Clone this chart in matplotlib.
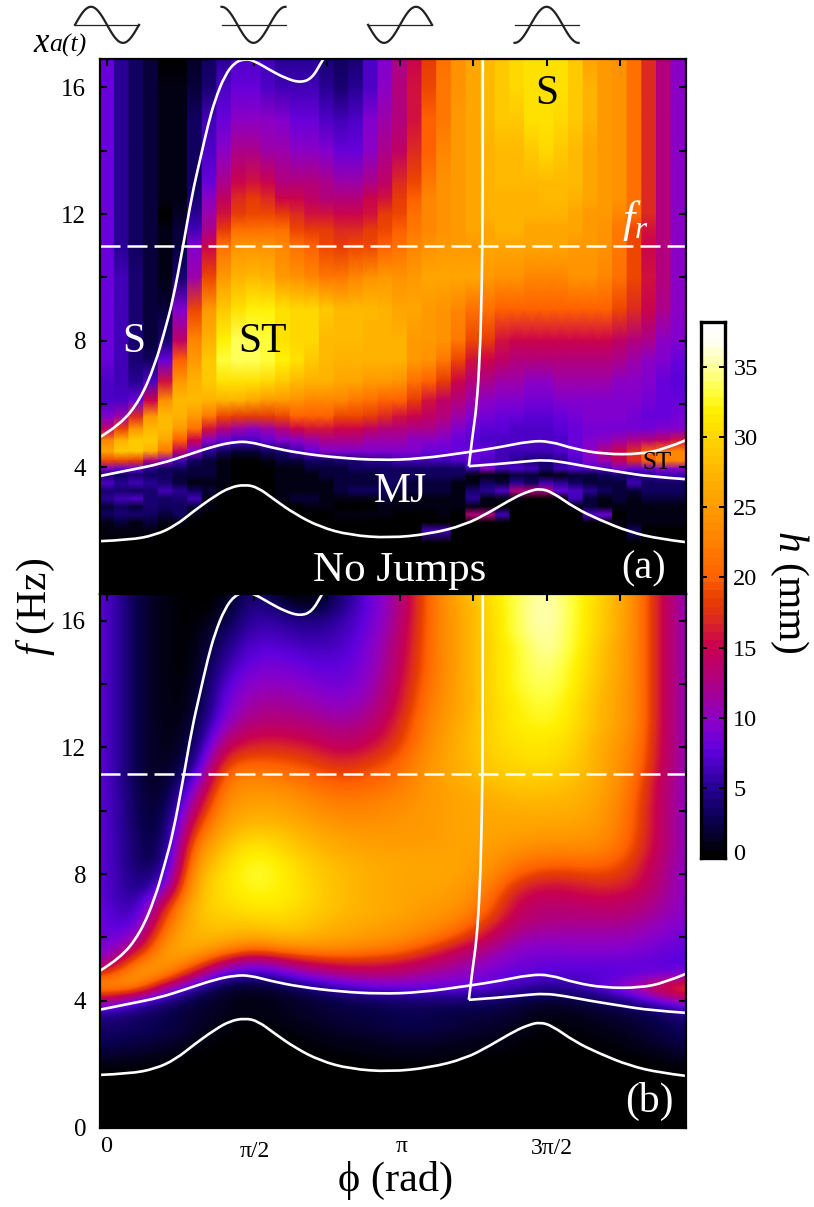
import numpy as np
import matplotlib
matplotlib.use("Agg")
import matplotlib.pyplot as plt
from matplotlib.colors import LinearSegmentedColormap
from matplotlib.path import Path
from matplotlib.patches import PathPatch

plt.rcParams['font.family'] = ['Liberation Serif', 'DejaVu Serif']
plt.rcParams['mathtext.fontset'] = 'custom'
plt.rcParams['mathtext.rm'] = 'Liberation Serif'
plt.rcParams['mathtext.it'] = 'Liberation Serif:italic'
plt.rcParams['mathtext.bf'] = 'Liberation Serif:bold'

# colour scale (value in mm, colour)
cbar_values = [0, 2.5, 5, 7.5, 9, 10, 12.5, 15, 17, 18.5, 20, 22.5, 25, 27.5, 30, 32, 33.5, 35, 37, 38.2]
cbar_colors = ['#000000', '#0a0050', '#2a0098', '#5f00dd', '#8000d0', '#9000c0', '#b00080', '#c80050',
               '#dc2a20', '#e84000', '#ff6000', '#ff8000', '#ff9a00', '#ffb400', '#ffd400', '#fff000',
               '#ffff40', '#ffff90', '#fffff0', '#ffffff']

# panel (a): 40 phase columns, rows at these frequencies
f_a = [16.9, 16, 15, 14, 13, 12.5, 12, 11.5, 11, 10, 8.98, 8, 7.38, 6.7, 6.1, 5.6, 5.2, 4.85, 4.5, 4.2,
       3.95, 3.75, 3.5, 3.25, 3.0, 2.75, 2.5, 2.25, 2.0, 1.6, 0]
h_a = [
    [8, 5, 3, 2, 0, 0, 1.5, 3, 5, 7, 7, 6, 5, 5, 5, 4, 3.5, 4, 7, 9, 12, 15, 18, 21, 24, 26, 28, 29, 30, 31, 31, 31, 29, 26, 25, 24, 21, 17, 13, 10],
    [8, 5, 3, 2, 1, 1, 2, 4, 7, 8, 8, 7, 6.5, 6, 6, 5, 4, 5, 7, 10, 13, 16, 19, 22, 24, 26, 28, 29, 30, 31, 31, 31, 29, 27, 25, 24, 21, 17, 13, 10],
    [8, 5, 3, 2, 1, 1, 3, 6, 8, 10, 10, 10, 9, 8, 8, 7, 6, 7, 9, 11, 13, 16, 20, 22, 25, 26, 28, 29, 29, 31, 31, 30, 29, 27, 25, 24, 21, 17, 13, 10],
    [8, 5, 3, 2, 1, 1, 3, 7, 10, 12, 12, 11, 11, 10, 10, 9, 8, 8, 10, 12, 14, 17, 20, 23, 25, 26, 27, 28, 28, 29, 30, 29, 28, 26, 25, 24, 21, 17, 13, 10],
    [8, 5, 3, 2, 1, 1, 3, 8, 12, 15, 16, 15, 13, 13, 13, 12, 11, 11, 12, 14, 17, 19, 22, 24, 25, 26, 27, 28, 28, 28, 28, 28, 28, 26, 25, 24, 21, 17, 13, 10],
    [8, 5, 3, 2, 1, 1, 4, 10, 14, 17, 18, 17, 15, 15, 14, 13, 13, 13, 15, 16, 18, 20, 23, 24, 25, 26, 27, 27, 27, 27, 28, 28, 27, 26, 25, 24, 21, 17, 13, 10],
    [8, 5, 3, 2, 0.5, 1.5, 5, 11, 16, 18, 19, 19, 18, 17, 16, 16, 15, 15, 16, 18, 19, 21, 23, 24, 25, 26, 27, 27, 27, 27, 27, 27, 26, 25, 25, 23, 21, 17, 13, 10],
    [8, 5, 3, 2, 1, 2, 6, 12, 18, 21, 21, 21, 21, 19, 18, 18, 17, 17, 18, 19, 20, 22, 23, 24, 25, 26, 26, 27, 27, 26, 26, 26, 26, 25, 24, 22, 19, 16, 13, 10],
    [8, 5, 3, 2, 1, 2, 9, 15, 21, 24, 24, 24, 23, 21, 20, 19, 18, 19, 19, 20, 21, 23, 24, 25, 25, 25, 26, 26, 26, 26, 26, 26, 25, 25, 24, 22, 19, 15, 13, 10],
    [8, 6, 4, 2, 1, 4, 11, 19, 25, 27, 28, 27, 25, 24, 23, 22, 22, 23, 24, 25, 24, 25, 26, 26, 26, 26, 25, 24, 24, 23, 23, 23, 24, 24, 23, 21, 19, 16, 13, 10],
    [8, 6, 4, 2, 2, 9, 19, 25, 29, 31, 32, 32, 31, 30, 30, 29, 28, 28, 28, 27, 26, 26, 25, 24, 23, 21, 21, 20, 20, 20, 20, 20, 20, 20, 20, 19, 17, 15, 12, 10],
    [8, 6, 4, 2, 4, 14, 23, 27, 32, 34, 34, 33, 31, 30, 30, 28, 28, 28, 27, 27, 27, 25, 25, 24, 22, 19, 18, 16, 15, 15, 15, 15, 15, 15, 15, 14, 13, 12, 10, 9],
    [8, 6, 4, 3, 8, 20, 25, 29, 33, 34, 34, 33, 32, 31, 29, 28, 27, 27, 27, 27, 27, 25, 24, 22, 19, 16, 15, 14, 13, 13, 13, 13, 13, 13, 13, 12, 11, 10, 9, 8],
    [7, 6, 5, 7, 16, 25, 27, 29, 31, 31, 31, 30, 29, 28, 27, 27, 26, 26, 25, 25, 24, 21, 20, 18, 15, 13, 12, 11, 11, 10, 10, 11, 11, 11, 11, 10, 10, 9, 8, 7.5],
    [7, 7, 8, 15, 24, 28, 28, 27, 27, 27, 26, 25, 25, 24, 23, 23, 23, 22, 21, 20, 20, 18, 16, 14, 13, 11, 10, 9, 9, 8.5, 8.5, 9, 9, 9.5, 9.5, 9, 9, 8.5, 8, 8],
    [9, 11, 17, 25, 28, 27, 25, 22, 19, 18, 18, 18, 19, 20, 20, 20, 19, 19, 18, 17, 16, 15, 14, 13, 11, 9.5, 8.5, 8, 8, 7.5, 7.5, 8, 8.5, 9, 9, 9, 8.5, 8, 8, 8.5],
    [14, 19, 25, 28, 28, 25, 21, 16, 13, 11, 10, 11, 13, 15, 16, 16, 15, 15, 14, 13, 13, 12, 12, 11, 9.5, 8, 7.5, 7.5, 7, 7, 7, 7.5, 8, 8.5, 8.5, 8.5, 8.5, 8.5, 9, 9],
    [23, 27, 29, 29, 26, 20, 15, 10, 8, 7, 7, 8, 9, 10, 11, 12, 12, 12, 11, 11, 11, 10, 10, 9, 8, 7.5, 7, 7, 7, 7, 7, 7, 8, 9, 10, 11, 12, 13, 14, 16],
    [26, 29, 29, 27, 22, 14, 9, 5, 3, 2, 2, 3, 4, 6, 8, 9, 9, 9, 9, 9, 9, 9, 8, 8, 8, 8, 8, 6, 6, 6, 6, 7, 8, 10, 13, 15, 17, 20, 22, 23],
    [19, 19, 18, 13, 9, 6, 3, 2, 1, 0.5, 0.5, 1, 2, 2, 3, 3, 4, 4, 5, 5, 6, 6, 6, 6, 7, 8, 7, 6, 5, 4, 4, 5, 7, 9, 11, 14, 17, 20, 23, 23],
    [9, 8, 8, 5, 3, 3, 2, 2, 1, 0.5, 0.5, 0.5, 1, 1, 2, 2, 2, 3, 3, 3, 3, 3, 3, 3, 3, 6, 10, 6, 7, 6, 4, 6, 7, 7, 7, 9, 8, 8, 10, 10],
    [4, 3, 4, 3, 3, 2, 2, 2, 1, 0.5, 0.5, 0.5, 1, 1, 1, 2, 2, 2, 2, 3, 3, 3, 3, 3, 3, 1, 1, 1, 2, 2, 1, 1, 2, 2, 3, 4, 4, 5, 6, 6],
    [7, 5, 6, 5, 4, 2, 1, 1, 1, 0.5, 0, 0.5, 1, 1, 1, 1, 2, 2, 2, 3, 3, 2, 2, 2, 1, 1, 3, 2, 5, 3, 6, 5, 3, 2, 2, 2, 6, 3, 3, 3],
    [4, 4, 3, 4, 6, 5, 3, 2, 1, 0, 0, 0.5, 1, 1, 1, 1, 2, 3, 3, 3, 2, 2, 2, 2, 1, 4, 5, 7, 13, 13, 13, 8, 7, 5, 3, 2, 2, 3, 3, 3],
    [5, 6, 7, 4, 3, 4, 6, 1, 0, 0, 0, 0, 1, 2, 2, 1, 1, 1, 1, 2, 1, 1, 1, 1, 1, 5, 1, 1, 1, 0, 0, 0, 6, 2, 1, 2, 1, 2, 2, 2],
    [2, 3, 2, 4, 3, 3, 2, 1, 0, 0, 0, 0, 0, 0, 1, 1, 0.5, 0.5, 0.5, 1, 1, 1, 1, 1, 1, 1, 1, 0, 0, 0, 0, 0, 1, 2, 1, 1, 1, 1, 1, 1],
    [3, 4, 4, 3, 2, 3, 1, 0, 0, 0, 0, 0, 0, 0, 0, 0, 1, 1, 1, 1, 0.5, 0.5, 0.5, 1, 0, 13, 13, 6, 0, 0, 0, 0, 0, 7, 8, 0.5, 1, 1, 1, 1],
    [1, 2, 1, 2, 1, 1, 0.5, 0, 0, 0, 0, 0, 0, 0, 0, 0, 0, 0, 0, 0.5, 0.5, 0.5, 0.5, 0.5, 0, 0.5, 0, 0, 0, 0, 0, 0, 0, 0, 0, 1, 1, 1, 1, 1],
    [1, 1, 1, 1, 0, 0, 0, 0, 0, 0, 0, 0, 0, 0, 0, 0, 0, 0, 0, 0, 0, 0, 6, 6, 0, 0, 0, 0, 0, 0, 0, 0, 0, 0, 0, 0, 3, 0.5, 0.5, 0.5],
    [0] * 40,
    [0] * 40,
]

# panel (b): smooth map, 21 columns every pi/10, rows every 0.4 Hz from 16.8 down to 0
h_b = [
    [7.5, 2, 0.5, 0, 0, 5, 0, 0, 4, 8, 12, 21, 27, 31, 34, 36, 33, 30, 24, 14, 9],
    [7.5, 2, 0.5, 0, 0.5, 5.5, 3, 0.5, 4.5, 8, 12, 21, 26, 30, 34, 36.5, 33, 29, 24, 14, 9],
    [7.5, 2, 0.5, 0, 1.5, 6, 5, 4, 5.5, 8, 12.5, 21, 26, 30, 34, 36.5, 33, 29, 24, 14, 9],
    [7.5, 2, 0.5, 0, 3, 6.5, 6, 5, 6, 8.5, 13, 21, 26, 30, 34, 36, 33, 29, 24, 14, 9],
    [7.5, 2, 0.5, 0, 4, 7.5, 7, 6, 6.5, 9, 13.5, 21, 26, 30, 33, 36, 33, 28, 24, 14, 9],
    [7.5, 2, 0.5, 0, 5, 8, 8, 7, 7, 9, 14, 21, 26, 30, 33, 35.5, 32.5, 28, 24, 14, 9],
    [7.5, 2, 0.5, 0, 6, 9, 9, 8, 7.5, 9.5, 14.5, 21, 26, 30, 33, 35, 32, 28, 24, 14, 9],
    [7.5, 2, 0.5, 0.2, 7, 10, 10, 9, 8, 10, 15, 21.5, 26, 30, 33, 34.5, 32, 27.5, 24, 14, 9],
    [7.5, 2, 0.5, 0.3, 8, 11, 11, 10, 9, 10.5, 15.5, 22, 26, 30, 32.5, 34, 31.5, 27, 24, 14, 9],
    [7.5, 2, 0.5, 0.5, 8.5, 12, 12, 11, 10, 11.5, 16, 22.5, 26, 30, 32, 33.5, 31, 27, 24, 14, 9],
    [7.5, 2, 0.5, 1, 10, 13, 13, 12.5, 11, 12.5, 17, 23, 26.5, 30, 32, 33, 31, 27, 24, 14, 9],
    [7.5, 2, 0.5, 1.5, 12, 15, 15, 14, 12.5, 14, 17.5, 23.5, 27, 30, 31.5, 32, 30.5, 26.5, 23.5, 14, 9],
    [7.5, 2, 0.5, 2, 15, 17, 17, 16, 14, 15.5, 18.5, 24, 27, 30, 31, 31.5, 30, 26, 23, 14, 9],
    [7.5, 2, 0.5, 3, 18, 19.5, 19, 18, 16, 17.5, 20, 24.5, 27, 29.5, 30.5, 31, 29.5, 26, 22.5, 14, 9],
    [7.5, 2, 0.5, 5, 21, 22, 21, 20, 18, 19.5, 21, 25, 27, 29, 30, 30, 29, 26, 22, 13.5, 9],
    [7.5, 2, 0.5, 8, 22.5, 24, 23, 21, 20, 20.5, 22, 25, 26.5, 28, 29, 29, 28, 26, 21, 13, 9],
    [7.5, 2.5, 0.5, 11, 24, 25, 25, 23, 21.5, 22, 23, 25, 26, 27, 28, 28, 27.5, 25.5, 20.5, 13, 9],
    [7.5, 2.5, 0.7, 14, 25, 26.5, 26, 24, 23, 23, 24, 25, 26, 26.5, 27, 27, 27, 25, 20, 13, 9],
    [7.5, 2.5, 1, 17, 26, 28, 27.5, 25.5, 24, 24, 24.5, 25, 26, 26, 26, 26, 26, 24.5, 20, 13, 9],
    [7.5, 3, 1, 20, 27.5, 30, 29, 27, 25.5, 25, 25, 25, 26, 26, 25.5, 25, 25, 24, 19.5, 13, 9],
    [7.5, 3, 1.5, 23, 29, 32, 30, 28, 26.5, 25.5, 25.5, 25.5, 26, 25.5, 24, 23, 23.5, 23, 19, 13, 9],
    [7.5, 3, 2, 25, 30, 33, 31.5, 29, 27.5, 26.5, 26, 26, 26, 25, 22, 21, 21, 21, 18, 12.5, 9],
    [7.5, 3.5, 4, 27, 31, 33.5, 32, 29.5, 28, 27, 26, 26, 26, 24, 20, 18, 18.5, 19, 17, 12, 9],
    [7.5, 3.5, 7, 28, 31, 33, 32, 30, 28, 27, 26, 26, 25.5, 23, 17, 15.5, 16, 17, 16, 12, 9],
    [7.5, 4, 13, 28.5, 31, 32, 32, 30, 28, 27, 26, 25.5, 25, 21.5, 15, 14, 14.5, 15, 14, 11.5, 9],
    [8, 4.5, 18, 29, 30, 31, 31, 29.5, 28, 27, 26, 25, 24, 20, 14, 13, 13, 13.5, 13, 11, 9],
    [8, 6, 21, 28.5, 29, 29, 30, 28.5, 27, 26, 25, 24, 22, 17.5, 13, 12, 12, 12, 11.5, 10, 8.5],
    [8, 9, 24, 28, 27.5, 26, 28, 27, 26, 25, 24, 22, 19, 15, 11, 10.5, 10.5, 10.5, 10.5, 9, 8],
    [8.5, 14, 26, 26.5, 23, 19.5, 22, 23, 23, 22, 21, 18, 15, 12, 9.5, 9, 9.5, 9.5, 9, 8, 7.5],
    [10, 22, 26, 22, 14, 10, 13, 16, 17, 17, 16, 14, 12, 10, 8.5, 8, 8, 8, 8, 7.5, 7],
    [19, 26, 23, 14, 6, 5, 7, 10, 12, 13, 12.5, 11, 10, 8.5, 7.5, 7, 7, 7, 7.5, 8, 9],
    [24, 23, 12, 5, 1.5, 1, 2, 4, 6, 7.5, 8, 8, 8, 7.5, 6, 4.5, 5.5, 8, 12, 18, 20],
    [13, 8, 4, 2, 1, 0.5, 1, 1.5, 2.5, 3, 3.5, 3.5, 3.5, 3.5, 2.5, 1.5, 2, 3, 5, 9, 13],
    [5, 3.5, 2.5, 1.5, 1, 0.5, 1, 1.5, 2, 2, 2.5, 2.5, 2, 2, 1.5, 0.5, 1, 1.5, 2, 3, 5],
    [3.5, 3, 2.5, 1.5, 0.5, 0.2, 0.5, 1, 1.5, 2, 2.5, 2.5, 2, 1.5, 1, 0.3, 0.5, 1, 1.5, 2.5, 3.5],
    [3, 2.5, 2, 1, 0.2, 0, 0.2, 0.5, 1, 1, 1.5, 1.5, 1, 1, 0.5, 0.2, 0.2, 0.5, 1, 2, 3],
    [2, 1.5, 1, 0.3, 0, 0, 0, 0.2, 0.5, 0.7, 1, 1, 0.7, 0.5, 0.2, 0, 0, 0.2, 0.5, 1, 2],
    [0.8, 0.5, 0.3, 0, 0, 0, 0, 0, 0, 0.2, 0.2, 0.2, 0, 0, 0, 0, 0, 0, 0, 0.3, 0.8],
    [0] * 21,
    [0] * 21,
    [0] * 21,
    [0] * 21,
    [0] * 21,
]

# white regime boundaries (phi in rad, f in Hz)
upper_phi = [-0.075, 0.139, 0.354, 0.514, 0.621, 0.707, 0.814, 0.911, 0.996, 1.082, 1.157, 1.264, 1.372, 1.479,
             1.575, 1.747, 1.907, 2.068, 2.197, 2.304, 2.336]
upper_f = [4.95, 5.33, 6.12, 7.23, 8.33, 9.28, 10.95, 12.6, 13.7, 14.81, 15.6, 16.39, 16.8, 16.9,
           16.85, 16.55, 16.3, 16.15, 16.28, 16.83, 16.98]
st_phi = [-0.075, 0.246, 0.568, 0.889, 1.157, 1.372, 1.532, 1.747, 2.068, 2.497, 2.925, 3.354, 3.890, 4.211,
          4.532, 4.747, 5.015, 5.336, 5.711, 5.979, 6.204]
st_f = [3.72, 3.91, 4.10, 4.41, 4.67, 4.8, 4.8, 4.63, 4.44, 4.29, 4.22, 4.26, 4.48, 4.63,
        4.82, 4.82, 4.57, 4.41, 4.41, 4.57, 4.85]
s_phi = [4.029, 4.029, 4.018, 3.997, 3.962, 3.922, 3.879]
s_f = [16.9, 12.4, 9.6, 7.48, 5.9, 5.08, 4.03]
low_phi = [3.879, 4.211, 4.479, 4.693, 4.908, 5.176, 5.497, 5.818, 6.204]
low_f = [4.03, 4.10, 4.18, 4.23, 4.15, 4.0, 3.85, 3.70, 3.62]
mj_phi = [-0.075, 0.246, 0.514, 0.729, 0.943, 1.157, 1.318, 1.479, 1.618, 1.800, 2.015, 2.282, 2.604, 3.032,
          3.461, 3.836, 4.104, 4.372, 4.532, 4.640, 4.768, 5.015, 5.283, 5.604, 5.925, 6.204]
mj_f = [1.66, 1.70, 1.85, 2.14, 2.64, 3.09, 3.36, 3.45, 3.36, 2.96, 2.52, 2.11, 1.85, 1.76,
        1.89, 2.17, 2.58, 3.05, 3.25, 3.32, 3.22, 2.71, 2.33, 1.95, 1.73, 1.63]

fr_a = 10.98
fr_b = 11.15
wave_phases = [0, np.pi / 2, np.pi, 3 * np.pi / 2]
y_ticks = [0, 2, 4, 6, 8, 10, 12, 14, 16]
y_labels_a = ['', '', '4', '', '8', '', '12', '', '16']
y_labels_b = ['0', '', '4', '', '8', '', '12', '', '16']
x_ticks = [k * np.pi / 4 for k in range(8)]

W, H = 814, 1207
VMAX = cbar_values[-1]
PHI_MIN, PHI_MAX = -0.075, 6.204

colour_nodes = [(v / VMAX, c) for v, c in zip(cbar_values, cbar_colors)]
cmap = LinearSegmentedColormap.from_list('jumps', colour_nodes, N=64)
cmap_fine = LinearSegmentedColormap.from_list('jumps_fine', colour_nodes, N=256)


def axes_px(left, top, right, bottom):
    return fig.add_axes([left / W, 1 - bottom / H, (right - left) / W, (bottom - top) / H])


def style_panel(ax, ymax, labels):
    ax.set_xlim(PHI_MIN, PHI_MAX)
    ax.set_ylim(0, ymax)
    ax.set_xticks(x_ticks)
    ax.set_xticklabels([])
    ax.set_yticks(y_ticks)
    ax.set_yticklabels(labels, fontsize=18)
    ax.tick_params(direction='in', top=True, right=True, length=5, width=1.5, pad=10)
    for sp in ax.spines.values():
        sp.set_linewidth(1.6)
        sp.set_zorder(5)


def smooth_line(ax, xs, ys, lw=1.9):
    # quadratic pieces through the midpoints of the read points, drawn by the path renderer
    pts = list(zip(xs, ys))
    verts = [pts[0]]
    codes = [Path.MOVETO]
    for i in range(1, len(pts) - 1):
        if i == len(pts) - 2:
            end = pts[-1]
        else:
            end = ((pts[i][0] + pts[i + 1][0]) / 2, (pts[i][1] + pts[i + 1][1]) / 2)
        verts += [pts[i], end]
        codes += [Path.CURVE3, Path.CURVE3]
    ax.add_patch(PathPatch(Path(verts, codes), fill=False, edgecolor='white', lw=lw, zorder=3))


def draw_boundaries(ax, fr):
    smooth_line(ax, upper_phi, upper_f)
    smooth_line(ax, st_phi, st_f)
    smooth_line(ax, s_phi, s_f)
    smooth_line(ax, low_phi, low_f)
    smooth_line(ax, mj_phi, mj_f)
    ax.plot([PHI_MIN, PHI_MAX], [fr, fr], color='white', lw=1.8, dashes=(8, 2.8), zorder=3)


fig = plt.figure(figsize=(W / 100, H / 100), dpi=100)
ax_a = axes_px(100, 59, 685.7, 593.7)
ax_b = axes_px(100, 593.7, 685.7, 1127.5)

# panel (a): blocks in phi, so each column edge is doubled in the gouraud mesh
phi_centres = np.arange(40) * np.pi / 20
phi_edges = np.concatenate([[PHI_MIN], (phi_centres[:-1] + phi_centres[1:]) / 2, [PHI_MAX]])
phi_double = np.repeat(phi_edges, 2)[1:-1]
X_a, Y_a = np.meshgrid(phi_double, f_a)
Z_a = np.repeat(np.array(h_a, dtype=float), 2, axis=1)
ax_a.pcolormesh(X_a, Y_a, Z_a, cmap=cmap, vmin=0, vmax=VMAX, shading='gouraud')

# panel (b): image smoothing from the uniform grid
ax_b.imshow(np.array(h_b, dtype=float), cmap=cmap_fine, vmin=0, vmax=VMAX, aspect='auto',
            interpolation='bicubic', origin='upper',
            extent=[-np.pi / 20, 2 * np.pi + np.pi / 20, -0.2, 17.0])

draw_boundaries(ax_a, fr_a)
draw_boundaries(ax_b, fr_b)
style_panel(ax_a, 16.9, y_labels_a)
style_panel(ax_b, 16.85, y_labels_b)

# waveform sketches above the top panel
t = np.linspace(0, 2 * np.pi, 120)
for phase in wave_phases:
    u = phase + (t / np.pi - 1) * 0.343
    ax_a.plot(u, 17.98 + 0.57 * np.sin(t + phase), color='#222222', lw=1.6, clip_on=False)
    ax_a.plot([u[0], u[-1]], [17.98, 17.98], color='#222222', lw=0.9, clip_on=False)

# labels inside the panels
ax_a.text(0.29, 7.97, 'S', color='white', fontsize=30, ha='center', va='center')
ax_a.text(1.67, 7.97, 'ST', color='black', fontsize=30, ha='center', va='center')
ax_a.text(4.71, 15.8, 'S', color='black', fontsize=30, ha='center', va='center')
ax_a.text(3.14, 3.23, 'MJ', color='white', fontsize=30, ha='center', va='center')
ax_a.text(5.9, 4.12, 'ST', color='black', fontsize=18, ha='center', va='center')
ax_a.text(3.14, 0.72, 'No Jumps', color='white', fontsize=31, ha='center', va='center')
ax_a.text(5.75, 0.77, '(a)', color='white', fontsize=29, ha='center', va='center')
ax_a.text(5.66, 11.8, r'$f_r$', color='white', fontsize=32, ha='center', va='center')
ax_b.text(5.81, 0.82, '(b)', color='white', fontsize=30, ha='center', va='center')

# phase tick labels
trans = ax_b.get_xaxis_transform()
ax_b.text(-0.01, -0.0459, '0', transform=trans, fontsize=17.5, ha='center', va='baseline')
ax_b.text(1.586, -0.0553, '\u03c0/2', transform=trans, fontsize=17, ha='center', va='baseline')
ax_b.text(3.161, -0.0459, '\u03c0', transform=trans, fontsize=17, ha='center', va='baseline')
ax_b.text(4.768, -0.0496, '3\u03c0/2', transform=trans, fontsize=17, ha='center', va='baseline')

# axis titles
fig.text(36 / W, 1 - 607 / H, r'$\mathit{f}$ (Hz)', fontsize=30, rotation=90, ha='center', va='center')
fig.text(396 / W, 1 - 1180 / H, '\u03d5 (rad)', fontsize=30.5, ha='center', va='center')
fig.text(789 / W, 1 - 592 / H, r'$\mathit{h}$ (mm)', fontsize=30, rotation=270, ha='center', va='center')
fig.text(49 / W, 1 - 52 / H, 'x', fontsize=25, style='italic', ha='right', va='baseline')
fig.text(49 / W, 1 - 52 / H, 'a(t)', fontsize=18.5, style='italic', ha='left', va='baseline')

# colour bar
ax_c = axes_px(701, 322, 725, 858)
levels = np.linspace(0, VMAX, 65)
ax_c.pcolormesh([0, 1], levels, ((levels[:-1] + levels[1:]) / 2).reshape(-1, 1), cmap=cmap, vmin=0, vmax=VMAX)
ax_c.set_xlim(0, 1)
ax_c.set_ylim(0, VMAX)
ax_c.set_xticks([])
ax_c.yaxis.tick_right()
ax_c.set_yticks([5, 10, 15, 20, 25, 30, 35])
ax_c.set_yticklabels(['5', '10', '15', '20', '25', '30', '35'], fontsize=17.5)
ax_c.tick_params(axis='y', direction='in', left=True, right=True, length=4, width=1.4, pad=6)
for sp in ax_c.spines.values():
    sp.set_linewidth(2.4)
    sp.set_zorder(5)
fig.text(733 / W, 1 - 855 / H, '0', fontsize=17.5, ha='left', va='center')

fig.savefig('out.png', dpi=100)
